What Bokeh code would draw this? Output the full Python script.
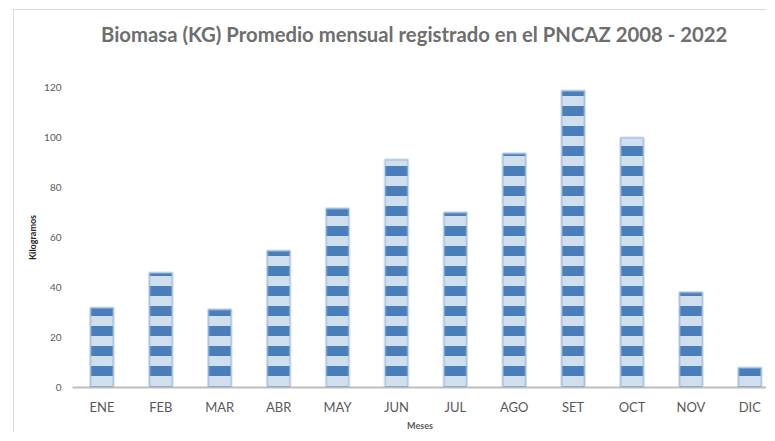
from bokeh.plotting import figure
from bokeh.models import Range1d, FixedTicker, LinearAxis
from bokeh.embed import file_html
from bokeh.resources import INLINE

# ---- data ----
months = ["ENE", "FEB", "MAR", "ABR", "MAY", "JUN", "JUL", "AGO", "SET", "OCT", "NOV", "DIC"]
biomass_kg = [31.9, 45.9, 31.2, 54.7, 71.6, 91.1, 70.0, 93.6, 118.7, 99.9, 38.1, 7.9]
y_ticks = [0, 20, 40, 60, 80, 100, 120]
title_text = "Biomasa (KG)  Promedio mensual registrado en el PNCAZ 2008 - 2022"
x_label = "Meses"
y_label = "Kilogramos"

# ---- styles ----
DARK = "#4a7ebb"
LIGHT = "#d0dfee"
EDGE = "#9ebbdd"
TEXT = "#595959"
FONT = "Lato"

x_pos = [i + 0.5 for i in range(len(months))]

p = figure(width=753, height=423, output_backend="svg", toolbar_location=None,
           x_range=Range1d(0, 11.8), y_range=Range1d(0, 120),
           min_border_left=58, min_border_right=0, min_border_top=77,
           min_border_bottom=46, title=title_text)
p.styles = {"margin-left": "13px", "margin-top": "9px",
            "border-left": "1px solid #d9d9d9", "border-top": "1px solid #d9d9d9"}

p.vbar(x=x_pos, top=biomass_kg, bottom=0, width=0.39,
       fill_color=DARK, hatch_pattern="-", hatch_color=LIGHT,
       hatch_scale=20, hatch_weight=10,
       line_color=EDGE, line_alpha=0.5, line_width=2.5)

# invisible spacer between the title and the plot area (one hidden tick, no label)
spacer = LinearAxis(ticker=FixedTicker(ticks=[x_pos[0]]), axis_line_color=None,
                    major_tick_line_color=None, minor_tick_line_color=None,
                    major_tick_in=0, major_tick_out=37, minor_tick_in=0, minor_tick_out=0,
                    major_label_standoff=0, major_label_text_font_size="0px",
                    major_label_overrides={x_pos[0]: ""})
p.add_layout(spacer, "above")

p.title.align = "left"
p.title.offset = 28.5
p.title.text_font = FONT
p.title.text_font_style = "bold"
p.title.text_font_size = "20.3px"
p.title.text_color = "#6e6e6e"
p.title.standoff = 10

p.outline_line_color = None
p.xgrid.grid_line_color = None
p.ygrid.grid_line_color = None

xa = p.below[0]
xa.ticker = FixedTicker(ticks=x_pos)
xa.major_label_overrides = {x: m for x, m in zip(x_pos, months)}
xa.major_tick_line_color = None
xa.minor_tick_line_color = None
xa.axis_line_color = "#bdbdbd"
xa.axis_line_width = 2
xa.major_label_text_font = FONT
xa.major_label_text_font_size = "13px"
xa.major_label_text_color = TEXT
xa.major_label_standoff = 5
xa.axis_label = x_label
xa.axis_label_text_font = FONT
xa.axis_label_text_font_style = "bold"
xa.axis_label_text_font_size = "9px"
xa.axis_label_text_color = TEXT
xa.axis_label_standoff = 2

p.yaxis.ticker = FixedTicker(ticks=y_ticks)
p.yaxis.axis_line_color = None
p.yaxis.major_tick_line_color = None
p.yaxis.minor_tick_line_color = None
p.yaxis.major_label_text_font = FONT
p.yaxis.major_label_text_font_size = "10px"
p.yaxis.major_label_text_color = TEXT
p.yaxis.major_label_standoff = 5
p.yaxis.axis_label = y_label
p.yaxis.axis_label_text_font = FONT
p.yaxis.axis_label_text_font_style = "bold"
p.yaxis.axis_label_text_font_size = "9px"
p.yaxis.axis_label_text_color = "#262626"
p.yaxis.axis_label_standoff = 3

open("out.html", "w").write(file_html(p, INLINE))
